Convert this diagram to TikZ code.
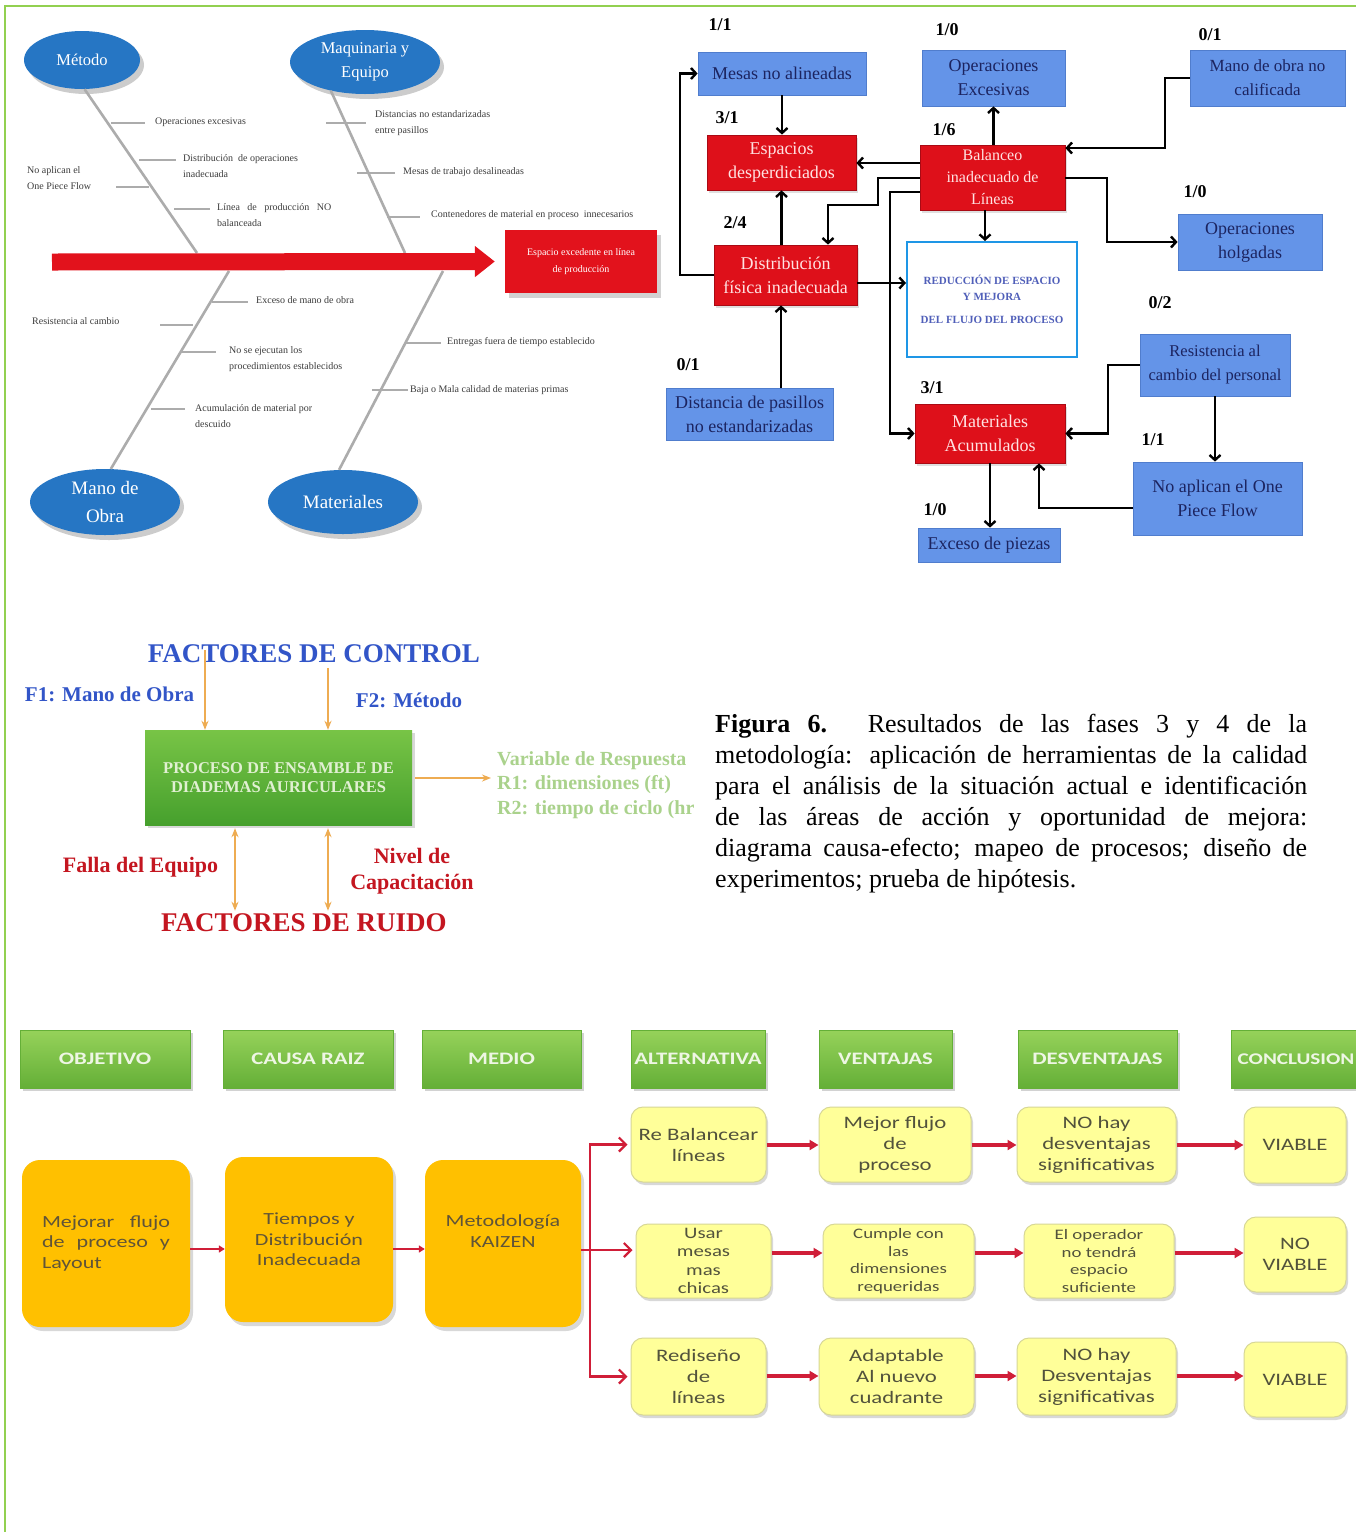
\documentclass[tikz,border=0pt]{standalone}
\usepackage{fontspec}
\setmainfont{Liberation Serif}
\newfontfamily\flowfont{Carlito}[FakeStretch=1.3]
\usetikzlibrary{arrows.meta,shapes.geometric,shadows}

\newcommand\fsz[2]{\fontsize{#1}{#2}\selectfont}

\definecolor{framegreen}{RGB}{146,208,80}
\definecolor{causeblue}{RGB}{38,118,196}
\definecolor{bonegrey}{RGB}{172,172,172}
\definecolor{twigtext}{RGB}{60,60,60}
\definecolor{effectred}{RGB}{226,18,28}
\definecolor{relblue}{RGB}{100,148,232}
\definecolor{relblueedge}{RGB}{80,125,205}
\definecolor{relred}{RGB}{222,16,26}
\definecolor{relrededge}{RGB}{170,10,20}
\definecolor{navytext}{RGB}{28,36,96}
\definecolor{pinktext}{RGB}{255,226,226}
\definecolor{goalblue}{RGB}{30,150,230}
\definecolor{goaltext}{RGB}{80,95,185}
\definecolor{ctrlblue}{RGB}{50,85,200}
\definecolor{arroworange}{RGB}{238,172,82}
\definecolor{procgreentop}{RGB}{120,196,70}
\definecolor{procgreenbot}{RGB}{70,160,45}
\definecolor{proctext}{RGB}{225,240,210}
\definecolor{respgreen}{RGB}{170,210,140}
\definecolor{noisered}{RGB}{196,22,32}
\definecolor{hdrtop}{RGB}{150,210,90}
\definecolor{hdrbot}{RGB}{100,175,55}
\definecolor{hdrtext}{RGB}{238,246,228}
\definecolor{ambar}{RGB}{255,192,0}
\definecolor{ambartext}{RGB}{96,84,56}
\definecolor{paleyellow}{RGB}{255,255,153}
\definecolor{paleedge}{RGB}{215,215,150}
\definecolor{paletext}{RGB}{82,82,60}
\definecolor{flowred}{RGB}{208,30,56}

\begin{document}
\begin{tikzpicture}[x=1pt,y=-1pt,
  fcause/.style={ellipse, fill=causeblue, text=white, inner sep=0pt, align=center,
    drop shadow={opacity=0.4, shadow xshift=4pt, shadow yshift=-5pt}},
  fbone/.style={bonegrey, line width=2.6pt},
  ftwig/.style={bonegrey, line width=2.2pt},
  subcause/.style={anchor=west, inner sep=0pt, align=left, text=twigtext, font=\fsz{10}{16}},
  rbox/.style={draw=relblueedge, line width=0.8pt, fill=relblue, text=navytext,
    align=center, inner sep=1pt, font=\fsz{18}{24}},
  rredbox/.style={draw=relrededge, line width=0.8pt, fill=relred, text=pinktext,
    align=center, inner sep=1pt, font=\fsz{18}{24},
    drop shadow={opacity=0.25, shadow xshift=2pt, shadow yshift=-3pt}},
  rscore/.style={font=\bfseries\fsz{18}{20}, inner sep=0pt},
  rlink/.style={line width=2.4pt, -{Straight Barb[length=5pt,width=11pt]}},
  ctrlarrow/.style={arroworange, line width=2pt, -{Stealth[length=9pt,width=7pt]}},
  noisearrow/.style={arroworange, line width=2pt, {Stealth[length=9pt,width=7pt]}-{Stealth[length=9pt,width=7pt]}},
  hdr/.style={top color=hdrtop, bottom color=hdrbot, draw=hdrbot, minimum height=58pt,
    text=hdrtext, font=\flowfont\bfseries\fsz{17.5}{20}, inner sep=0pt,
    drop shadow={opacity=0.35, shadow xshift=3pt, shadow yshift=-3pt}},
  ambarbox/.style={fill=ambar, rounded corners=18pt, text=ambartext, align=center,
    font=\flowfont\fsz{17}{20.5}, inner sep=0pt,
    drop shadow={opacity=0.3, shadow xshift=3pt, shadow yshift=-4pt}},
  palebox/.style={fill=paleyellow, draw=paleedge, line width=1pt, rounded corners=12pt,
    text=paletext, align=center, font=\flowfont\fsz{17.5}{21}, inner sep=0pt,
    drop shadow={opacity=0.3, shadow xshift=2pt, shadow yshift=-3pt}},
  flowlink/.style={flowred, line width=3.2pt, -{Triangle[length=9pt,width=10pt]}},
  smalllink/.style={flowred, line width=2.5pt, -{Triangle[length=6pt,width=7pt]}},
  forklink/.style={flowred, line width=2.2pt, -{Straight Barb[length=7pt,width=14pt]}}
]
\useasboundingbox (0,0) rectangle (1356,1532);
\fill[white] (0,0) rectangle (1356,1532);

% page frame rules
\draw[framegreen, line width=2.5pt] (5,1532) -- (5,6) -- (1356,6);

%% ---------------- cause-and-effect diagram ----------------
\node[fcause, minimum width=116pt, minimum height=58pt, font=\fsz{16.5}{22}] (metodo) at (82,60) {Método};
\node[fcause, minimum width=150pt, minimum height=64pt, font=\fsz{16.5}{24}] (maquina) at (365,62) {Maquinaria y\\Equipo};
\node[fcause, minimum width=150pt, minimum height=66pt, font=\fsz{19}{28}] (manoc) at (105,502) {Mano de\\Obra};
\node[fcause, minimum width=150pt, minimum height=64pt, font=\fsz{19}{24}] (matc) at (343,502) {Materiales};

\coordinate (spinetail) at (52,262);
\coordinate (j1) at (197,253);
\coordinate (j2) at (405,253);
\coordinate (j3) at (229,271);
\coordinate (j4) at (443,271);
\draw[fbone] (metodo.-85) -- (j1);
\draw[fbone] (maquina.-140) -- (j2);
\draw[fbone] (manoc.80) -- (j3);
\draw[fbone] (matc.97) -- (j4);

% secondary causes
\draw[ftwig] (111,123) -- (145,123);
\node[subcause] (sc1) at (155,122) {Operaciones excesivas};
\draw[ftwig] (139,160) -- (176,160);
\node[subcause] (sc2) at (183,166) {Distribución~~de operaciones\\inadecuada};
\draw[ftwig] (116,187) -- (149,187);
\node[subcause] (sc3) at (27,178) {No aplican el\\One Piece Flow};
\draw[ftwig] (174,209) -- (210,209);
\node[subcause] (sc4) at (217,215) {Línea~~~de~~~producción~~~NO\\balanceada};
\draw[ftwig] (326,123) -- (366,123);
\node[subcause] (sc5) at (375,123) {Distancias no estandarizadas\\entre pasillos};
\draw[ftwig] (357,173) -- (395,173);
\node[subcause] (sc6) at (403,172) {Mesas de trabajo desalineadas};
\draw[ftwig] (387,217) -- (420,217);
\node[subcause] (sc7) at (431,215) {Contenedores de material en proceso~~innecesarios};
\draw[ftwig] (212,302) -- (248,302);
\node[subcause] (sc8) at (256,300) {Exceso de mano de obra};
\draw[ftwig] (160,325) -- (193,325);
\node[subcause] (sc9) at (32,321) {Resistencia al cambio};
\draw[ftwig] (181,352) -- (216,352);
\node[subcause] (sc10) at (229,359) {No se ejecutan los\\procedimientos establecidos};
\draw[ftwig] (151,409) -- (185,409);
\node[subcause] (sc11) at (195,416) {Acumulación de material por\\descuido};
\draw[ftwig] (405,343) -- (441,343);
\node[subcause] (sc12) at (447,342) {Entregas fuera de tiempo establecido};
\draw[ftwig] (372,390) -- (408,390);
\node[subcause] (sc13) at (410,390) {Baja o Mala calidad de materias primas};

% effect and spine
\node[fill=effectred, minimum width=152pt, minimum height=63pt, text=white, align=center,
  font=\fsz{10}{17}, inner sep=0pt,
  drop shadow={opacity=0.35, shadow xshift=4pt, shadow yshift=-5pt}] (effect) at (581,261.5)
  {Espacio excedente en línea\\de producción};
\draw[effectred, line width=17pt, shorten >=10pt, -{Triangle[length=20pt,width=30pt]}] (spinetail) -- (effect.west);

%% ---------------- relations diagram ----------------
\node[rbox, minimum width=168pt, minimum height=43pt] (mesas) at (782,73.5) {Mesas no alineadas};
\node[rbox, minimum width=143pt, minimum height=56pt] (opexc) at (993.5,78) {Operaciones\\Excesivas};
\node[rbox, minimum width=155pt, minimum height=56pt, font=\fsz{17}{24}] (manoobra) at (1267.5,78) {Mano de obra no\\calificada};
\node[rredbox, minimum width=149pt, minimum height=55pt] (espacios) at (781.5,162.5) {Espacios\\desperdiciados};
\node[rredbox, minimum width=145pt, minimum height=65pt, font=\fsz{16}{22}] (balanceo) at (992.5,177.5) {Balanceo\\inadecuado de\\Líneas};
\node[rbox, minimum width=144pt, minimum height=56pt] (opholg) at (1250,242) {Operaciones\\holgadas};
\node[rredbox, minimum width=143pt, minimum height=60pt] (distrib) at (785.5,275) {Distribución\\física inadecuada};
\node[draw=goalblue, line width=2pt, fill=white, minimum width=170pt, minimum height=115pt,
  align=center, text=goaltext, font=\bfseries\fsz{11}{16}] (reduccion) at (992,299.5)
  {REDUCCIÓN DE ESPACIO\\Y MEJORA\\[7pt]DEL FLUJO DEL PROCESO};
\node[rbox, minimum width=167pt, minimum height=52pt] (distancia) at (749.5,414) {Distancia de pasillos\\no estandarizadas};
\node[rbox, minimum width=150pt, minimum height=62pt, font=\fsz{16.5}{24}] (resist) at (1215,365) {Resistencia al\\cambio del personal};
\node[rredbox, minimum width=150pt, minimum height=59pt] (materiales) at (990,433.5) {Materiales\\Acumulados};
\node[rbox, minimum width=169pt, minimum height=73pt] (onepiece) at (1217.5,498.5) {No aplican el One\\Piece Flow};
\node[rbox, minimum width=142pt, minimum height=34pt] (exceso) at (989,545) {Exceso de piezas};

% in/out scores
\node[rscore] (s-mesas) at (720,25) {1/1};
\node[rscore] (s-opexc) at (947,30) {1/0};
\node[rscore] (s-manoobra) at (1210,35) {0/1};
\node[rscore] (s-espacios) at (727,118) {3/1};
\node[rscore] (s-balanceo) at (944,130) {1/6};
\node[rscore] (s-opholg) at (1195,192) {1/0};
\node[rscore] (s-distrib) at (735,223) {2/4};
\node[rscore] (s-distancia) at (688,365) {0/1};
\node[rscore] (s-resist) at (1160,303) {0/2};
\node[rscore] (s-materiales) at (932,388) {3/1};
\node[rscore] (s-onepiece) at (1153,440) {1/1};
\node[rscore] (s-exceso) at (935,510) {1/0};

% influence links
\draw[rlink] (mesas.south) -- (mesas.south |- espacios.north);
\draw[rlink] (distrib.west) -- (680,0 |- distrib.west) -- (680,0 |- mesas.west) -- (mesas.west);
\draw[rlink] (espacios.south |- distrib.north) -- (espacios.south);
\draw[rlink] (781,0 |- distancia.north) -- (781,0 |- distrib.south);
\draw[rlink] (balanceo.west |- 0,163) -- (espacios.east |- 0,163);
\draw[rlink] (opexc.south |- balanceo.north) -- (opexc.south);
\draw[rlink] (manoobra.west) -- (1165,0 |- manoobra.west) -- (1165,148) -- (balanceo.east |- 0,148);
\draw[rlink] (balanceo.east |- 0,178) -- (1107,178) -- (1107,0 |- opholg.west) -- (opholg.west);
\draw[rlink] (985,0 |- balanceo.south) -- (985,0 |- reduccion.north);
\draw[rlink] (balanceo.west |- 0,178) -- (878,178) -- (878,205) -- (828,205) -- (828,0 |- distrib.north);
\draw[rlink] (balanceo.west |- 0,192) -- (890,192) -- (890,0 |- materiales.west) -- (materiales.west);
\draw[rlink] (distrib.east |- 0,283) -- (reduccion.west |- 0,283);
\draw[rlink] (resist.west) -- (1108,0 |- resist.west) -- (1108,0 |- materiales.east) -- (materiales.east);
\draw[rlink] (resist.south) -- (resist.south |- onepiece.north);
\draw[rlink] (onepiece.west |- 0,508) -- (1039,508) -- (1039,0 |- materiales.south);
\draw[rlink] (materiales.south) -- (materiales.south |- exceso.north);

%% ---------------- experiment design ----------------
\node[font=\bfseries\fsz{27}{30}, text=ctrlblue, inner sep=0pt] (ctrltitle) at (314,654) {FACTORES DE CONTROL};
\node[font=\bfseries\fsz{21}{24}, text=ctrlblue, inner sep=0pt] (f1) at (109.5,694) {F1: Mano de Obra};
\node[font=\bfseries\fsz{21}{24}, text=ctrlblue, inner sep=0pt] (f2) at (409,700) {F2: Método};
\node[top color=procgreentop, bottom color=procgreenbot, minimum width=267pt, minimum height=95pt,
  align=center, text=proctext, font=\bfseries\fsz{16.5}{18.5}, inner sep=0pt,
  drop shadow={opacity=0.3, shadow xshift=3pt, shadow yshift=-3pt}] (proc) at (278.5,777.5)
  {PROCESO DE ENSAMBLE DE\\DIADEMAS AURICULARES};
\begin{scope}
  \clip (0,600) rectangle (697,1000);
  \node[anchor=west, align=left, text=respgreen, font=\bfseries\fsz{20}{24.5}, inner sep=0pt] (resp) at (497,785)
    {Variable de Respuesta\\R1: dimensiones (ft)\\R2: tiempo de ciclo (hr};
\end{scope}
\node[font=\bfseries\fsz{22}{25}, text=noisered, inner sep=0pt] (falla) at (140.5,867) {Falla del Equipo};
\node[font=\bfseries\fsz{22}{26}, text=noisered, align=center, inner sep=0pt] (nivel) at (412,871) {Nivel de\\Capacitación};
\node[font=\bfseries\fsz{27}{30}, text=noisered, inner sep=0pt] (ruidotitle) at (304,923) {FACTORES DE RUIDO};

\coordinate (c1top) at (205,650);
\coordinate (c2top) at (328,668);
\draw[ctrlarrow] (c1top) -- (205,0 |- proc.north);
\draw[ctrlarrow] (c2top) -- (328,0 |- proc.north);
\draw[ctrlarrow, shorten <=3pt, shorten >=6pt] (proc.east |- 0,778) -- (resp.west |- 0,778);
\draw[noisearrow, shorten <=3pt, shorten >=3pt] (235,0 |- proc.south) -- (235,0 |- ruidotitle.north);
\draw[noisearrow, shorten <=3pt, shorten >=3pt] (328,0 |- proc.south) -- (328,0 |- ruidotitle.north);

%% ---------------- caption ----------------
\node[anchor=north west, inner sep=0pt, text width=592pt, align=justify, font=\fsz{26}{31}] (caption) at (715,714)
  {\textbf{Figura 6.} Resultados de las fases 3 y 4 de la\linebreak
   metodología: aplicación de herramientas de la calidad\linebreak
   para el análisis de la situación actual e identificación\linebreak
   de las áreas de acción y oportunidad de mejora:\linebreak
   diagrama causa-efecto; mapeo de procesos; diseño de\linebreak
   experimentos; prueba de hipótesis.};

%% ---------------- solution tree ----------------
\node[hdr, minimum width=170pt] (hobj) at (105,1059) {OBJETIVO};
\node[hdr, minimum width=170pt] (hcausa) at (308,1059) {CAUSA RAIZ};
\node[hdr, minimum width=159pt] (hmedio) at (501.5,1059) {MEDIO};
\node[hdr, minimum width=134pt] (halt) at (698,1059) {ALTERNATIVA};
\node[hdr, minimum width=133pt] (hven) at (885.5,1059) {VENTAJAS};
\node[hdr, minimum width=159pt] (hdes) at (1097.5,1059) {DESVENTAJAS};
\node[hdr, minimum width=139pt, font=\flowfont\bfseries\fsz{16.3}{20}, text width=139pt, align=center] (hcon) at (1300.5,1059) {\hspace*{-9pt}CONCLUSION};

\node[ambarbox, minimum width=168pt, minimum height=167pt] (obj) at (106,1243.5)
  {\parbox{128pt}{\fsz{17}{20.5}\flowfont Mejorar flujo\linebreak de proceso y\linebreak Layout}};
\node[ambarbox, minimum width=168pt, minimum height=165pt] (causa) at (309,1239.5)
  {Tiempos y\\Distribución\\Inadecuada};
\node[ambarbox, minimum width=156pt, minimum height=167pt] (medio) at (503,1243.5) {};
\node[text=ambartext, align=center, font=\flowfont\fsz{17}{20.5}, inner sep=0pt] (mediotext) at (503,1231)
  {Metodología\\KAIZEN};

\draw[smalllink] (obj.east |- 0,1249) -- (causa.west |- 0,1249);
\draw[smalllink] (causa.east |- 0,1249) -- (medio.west |- 0,1249);

% row 1
\node[palebox, minimum width=135pt, minimum height=75pt] (alt1) at (698.5,1144.5) {Re Balancear\\líneas};
\node[palebox, minimum width=152pt, minimum height=75pt] (ven1) at (895,1144.5) {Mejor flujo\\de\\proceso};
\node[palebox, minimum width=159pt, minimum height=75pt] (des1) at (1096.5,1144.5) {NO hay\\desventajas\\significativas};
\node[palebox, minimum width=102pt, minimum height=76pt] (con1) at (1295,1145) {VIABLE};
% row 2
\node[palebox, minimum width=135pt, minimum height=74pt, font=\flowfont\fsz{16}{18.5}] (alt2) at (703.5,1261) {Usar\\mesas\\mas\\chicas};
\node[palebox, minimum width=151pt, minimum height=74pt, font=\flowfont\fsz{14.5}{17.5}] (ven2) at (898.5,1261) {Cumple con\\las\\dimensiones\\requeridas};
\node[palebox, minimum width=150pt, minimum height=74pt, font=\flowfont\fsz{14.5}{17.5}] (des2) at (1099,1261) {El operador\\no tendrá\\espacio\\suficiente};
\node[palebox, minimum width=102pt, minimum height=75pt] (con2) at (1295,1254.5) {NO\\VIABLE};
% row 3
\node[palebox, minimum width=135pt, minimum height=77pt] (alt3) at (698.5,1376.5) {Rediseño\\de\\líneas};
\node[palebox, minimum width=155pt, minimum height=77pt] (ven3) at (896.5,1376.5) {Adaptable\\Al nuevo\\cuadrante};
\node[palebox, minimum width=159pt, minimum height=77pt] (des3) at (1096.5,1376.5) {NO hay\\Desventajas\\significativas};
\node[palebox, minimum width=102pt, minimum height=75pt] (con3) at (1295,1379.5) {VIABLE};

% fork from the chosen method to the alternatives
\coordinate (fork) at (590,1250);
\draw[flowred, line width=2.2pt] (medio.east |- fork) -- (fork);
\draw[forklink, shorten >=3pt] (fork) |- (alt1.west);
\draw[forklink, shorten >=3pt] (fork) -- (alt2.west |- fork);
\draw[forklink, shorten >=3pt] (fork) |- (alt3.west);

% evaluation chains
\draw[flowlink] (alt1.east |- 0,1145) -- (ven1.west |- 0,1145);
\draw[flowlink] (ven1.east |- 0,1145) -- (des1.west |- 0,1145);
\draw[flowlink] (des1.east |- 0,1145) -- (con1.west |- 0,1145);
\draw[flowlink] (alt2.east |- 0,1253) -- (ven2.west |- 0,1253);
\draw[flowlink] (ven2.east |- 0,1253) -- (des2.west |- 0,1253);
\draw[flowlink] (des2.east |- 0,1253) -- (con2.west |- 0,1253);
\draw[flowlink] (alt3.east |- 0,1376) -- (ven3.west |- 0,1376);
\draw[flowlink] (ven3.east |- 0,1376) -- (des3.west |- 0,1376);
\draw[flowlink] (des3.east |- 0,1376) -- (con3.west |- 0,1376);
\end{tikzpicture}
\end{document}
